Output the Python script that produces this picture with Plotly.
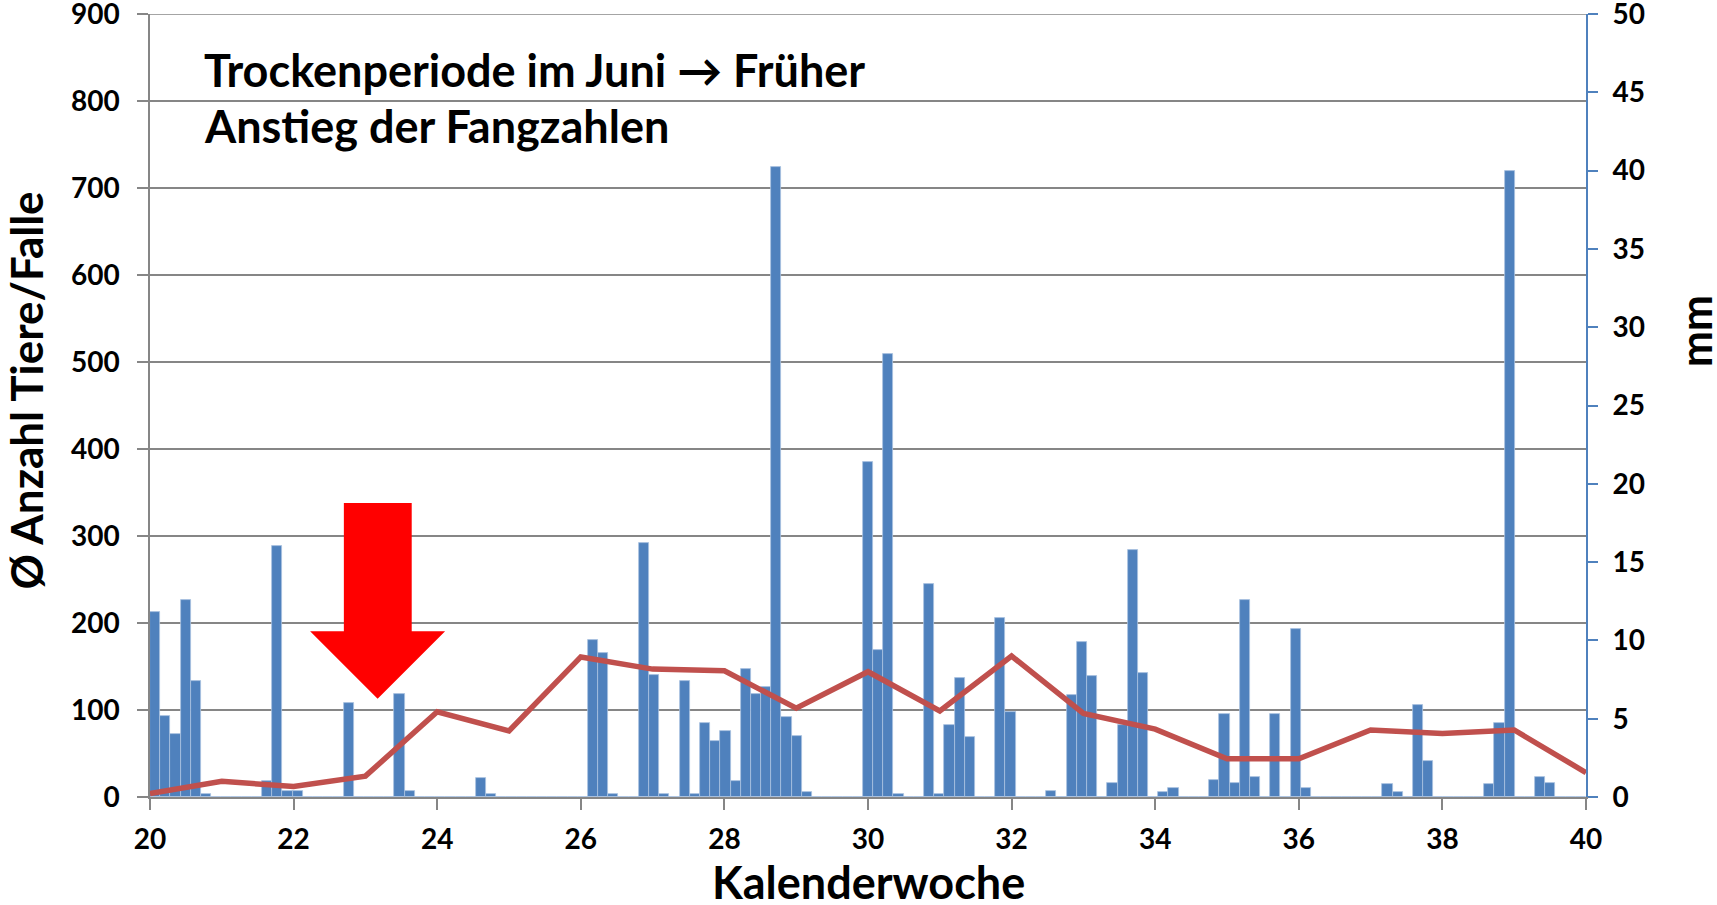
import plotly.graph_objects as go

# Daily precipitation (mm), 141 daily slots starting at KW 20
precip_mm = [
    11.8, 5.2, 4.0, 12.6, 7.4, 0.2, 0, 0, 0, 0,
    0, 1.0, 16.0, 0.4, 0.4, 0, 0, 0, 0, 6.0,
    0, 0, 0, 0, 6.6, 0.4, 0, 0, 0, 0,
    0, 0, 1.2, 0.2, 0, 0, 0, 0, 0, 0,
    0, 0, 0, 10.0, 9.2, 0.2, 0, 0, 16.2, 7.8,
    0.2, 0, 7.4, 0.2, 4.7, 3.6, 4.2, 1.0, 8.2, 6.6,
    7.0, 40.2, 5.1, 3.9, 0.3, 0, 0, 0, 0, 0,
    21.4, 9.4, 28.3, 0.2, 0, 0, 13.6, 0.2, 4.6, 7.6,
    3.8, 0, 0, 11.4, 5.4, 0, 0, 0, 0.4, 0,
    6.5, 9.9, 7.7, 0, 0.9, 4.6, 15.8, 7.9, 0, 0.3,
    0.6, 0, 0, 0, 1.1, 5.3, 0.9, 12.6, 1.3, 0,
    5.3, 0, 10.7, 0.6, 0, 0, 0, 0, 0, 0,
    0, 0.8, 0.3, 0, 5.9, 2.3, 0, 0, 0, 0,
    0, 0.8, 4.7, 40.0, 0, 0, 1.3, 0.9, 0, 0,
    0,
]
day_index = list(range(len(precip_mm)))

# Weekly mean catch per trap
weeks = list(range(20, 41))
catch_per_trap = [4, 18, 12, 24, 98, 76, 161, 147, 145, 102, 144,
                  99, 162, 96, 78, 44, 44, 77, 73, 77, 28]

x_ticks = list(range(20, 41, 2))
left_ticks = list(range(0, 901, 100))
right_ticks = list(range(0, 51, 5))

FONT = "Lato"
GRID = "#868686"
BLUE = "#4F81BD"
RED = "#C0504D"

fig = go.Figure()

fig.add_trace(go.Bar(
    x=day_index, y=precip_mm, xaxis="x", yaxis="y",
    marker=dict(color=BLUE, line=dict(color="#A9C1E0", width=0.8)),
    width=1.0, showlegend=False, hoverinfo="skip",
))

fig.add_trace(go.Scatter(
    x=weeks, y=catch_per_trap, xaxis="x2", yaxis="y2",
    mode="lines", line=dict(color=RED, width=5.5),
    showlegend=False, hoverinfo="skip",
))

tick_font = dict(family=FONT, size=28, color="black", weight="bold")

fig.update_layout(
    width=1717, height=905,
    margin=dict(l=150, r=131, t=14, b=108, pad=0, autoexpand=False),
    paper_bgcolor="white", plot_bgcolor="white",
    bargap=0,
    font=dict(family=FONT, color="black"),
    xaxis=dict(visible=False, range=[-0.5, 140.5], fixedrange=True, automargin=False),
    yaxis=dict(
        side="right", range=[0, 50], tickvals=right_ticks,
        showgrid=False, zeroline=False, automargin=False,
        showline=True, linecolor=BLUE, linewidth=2,
        ticks="outside", ticklen=10, tickwidth=1.5, tickcolor=BLUE,
        tickfont=tick_font, ticklabelstandoff=9, ticklabeloverflow="allow",
    ),
    xaxis2=dict(
        overlaying="x", anchor="y2", side="bottom",
        range=[20, 40], tickvals=x_ticks, automargin=False,
        showgrid=False, zeroline=False,
        showline=True, linecolor=GRID, linewidth=1.5,
        ticks="outside", ticklen=11, tickwidth=1.5, tickcolor=GRID,
        tickfont=tick_font, ticklabelstandoff=6, ticklabeloverflow="allow",
    ),
    yaxis2=dict(
        overlaying="y", anchor="x2", side="left",
        range=[0, 900], tickvals=left_ticks, automargin=False,
        showgrid=True, gridcolor=GRID, gridwidth=1.5,
        zeroline=False,
        showline=True, linecolor=GRID, linewidth=1.5,
        ticks="outside", ticklen=11, tickwidth=1.5, tickcolor=GRID,
        tickfont=tick_font, ticklabelstandoff=12, ticklabeloverflow="allow",
    ),
)

# top gridline (plotly clips gridlines at the plot edge)
fig.add_shape(type="line", xref="x2 domain", yref="y2", x0=0, x1=1, y0=900, y1=900,
              line=dict(color=GRID, width=1.5), layer="below")

# red block arrow (in KW / left-axis units)
fig.add_shape(
    type="path", xref="x2", yref="y2", layer="above",
    path="M 22.70 338 L 23.645 338 L 23.645 190.5 L 24.11 190.5 "
         "L 23.17 113 L 22.23 190.5 L 22.70 190.5 Z",
    fillcolor="#FF0000", line=dict(width=0),
)

ann_font_big = dict(family=FONT, size=45, color="black", weight="bold")
fig.add_annotation(text="Trockenperiode im Juni \u2192 Früher", xref="paper", yref="paper",
                   x=0.036, y=0.9288, xanchor="left", yanchor="middle",
                   showarrow=False, font=ann_font_big)
fig.add_annotation(text="Anstieg der Fangzahlen", xref="paper", yref="paper",
                   x=0.036, y=0.8568, xanchor="left", yanchor="middle",
                   showarrow=False, font=ann_font_big)

fig.add_annotation(text="Kalenderwoche", xref="paper", yref="paper",
                   x=0.5, y=-0.108, xanchor="center", yanchor="middle",
                   showarrow=False, font=dict(family=FONT, size=45, color="black", weight="bold"))
fig.add_annotation(text="\u00d8 Anzahl Tiere/Falle", xref="paper", yref="paper",
                   x=-0.0866, y=0.5188, xanchor="center", yanchor="middle", textangle=-90,
                   showarrow=False, font=dict(family=FONT, size=44, color="black", weight="bold"))
fig.add_annotation(text="mm", xref="paper", yref="paper",
                   x=1.0764, y=0.5948, xanchor="center", yanchor="middle", textangle=-90,
                   showarrow=False, font=dict(family=FONT, size=43, color="black", weight="bold"))

fig.write_html("out.html", config={"displayModeBar": False},
               post_script="document.body.style.margin='0';")
